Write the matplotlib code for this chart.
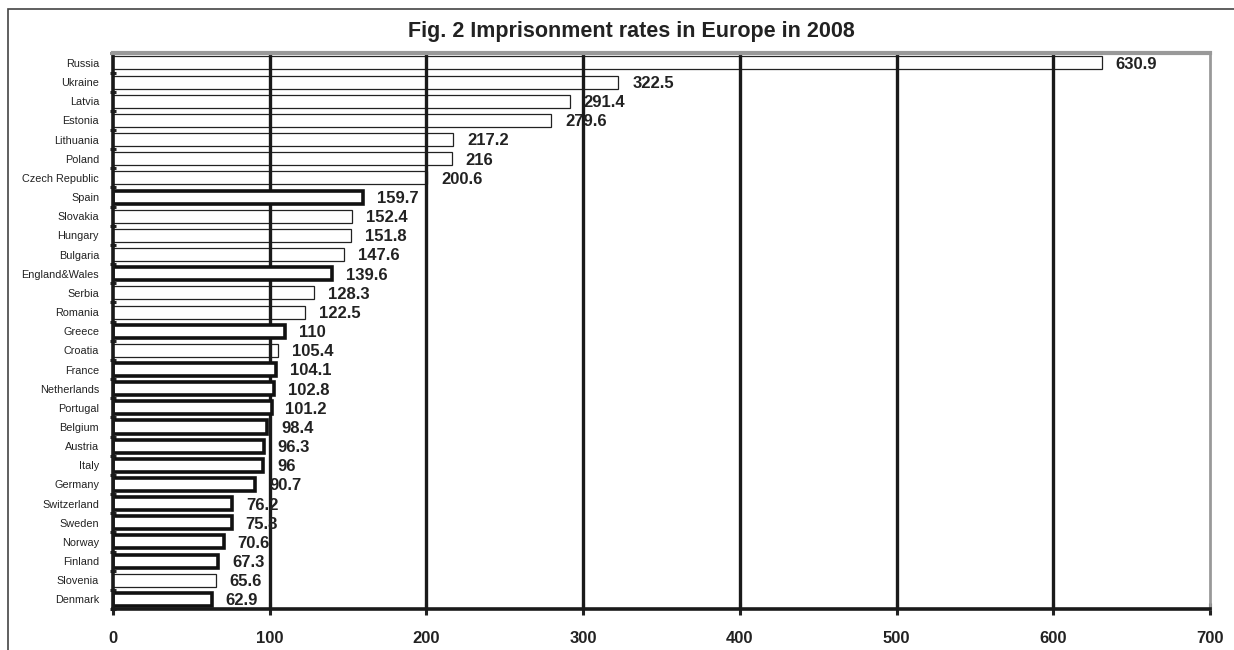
import matplotlib
matplotlib.use("Agg")
import matplotlib.pyplot as plt
from matplotlib.patches import Rectangle
import numpy as np

countries = ["Russia", "Ukraine", "Latvia", "Estonia", "Lithuania", "Poland",
             "Czech Republic", "Spain", "Slovakia", "Hungary", "Bulgaria",
             "England&Wales", "Serbia", "Romania", "Greece", "Croatia", "France",
             "Netherlands", "Portugal", "Belgium", "Austria", "Italy", "Germany",
             "Switzerland", "Sweden", "Norway", "Finland", "Slovenia", "Denmark"]
rates = [630.9, 322.5, 291.4, 279.6, 217.2, 216, 200.6, 159.7, 152.4, 151.8,
         147.6, 139.6, 128.3, 122.5, 110, 105.4, 104.1, 102.8, 101.2, 98.4,
         96.3, 96, 90.7, 76.2, 75.8, 70.6, 67.3, 65.6, 62.9]
rate_labels = ["630.9", "322.5", "291.4", "279.6", "217.2", "216", "200.6",
               "159.7", "152.4", "151.8", "147.6", "139.6", "128.3", "122.5",
               "110", "105.4", "104.1", "102.8", "101.2", "98.4", "96.3", "96",
               "90.7", "76.2", "75.8", "70.6", "67.3", "65.6", "62.9"]
highlighted = ["Spain", "England&Wales", "Greece", "France", "Netherlands",
               "Portugal", "Belgium", "Austria", "Italy", "Germany",
               "Switzerland", "Sweden", "Norway", "Finland", "Denmark"]
x_ticks = [0, 100, 200, 300, 400, 500, 600, 700]

plt.rcParams['font.family'] = ['Liberation Sans', 'DejaVu Sans']

fig = plt.figure(figsize=(12.34, 6.5), dpi=100)
ax = fig.add_axes([113/1234, 1-609/650, (1210-113)/1234, (609-53)/650])

y = np.arange(len(countries))
for yi, c, v, lab in zip(y, countries, rates, rate_labels):
    if c in highlighted:
        ax.barh(yi, v, height=0.68, color='white', edgecolor='#111111',
                linewidth=2.6, zorder=3)
    else:
        ax.barh(yi, v, height=0.68, color='none', edgecolor='#222222',
                linewidth=0.9, zorder=1)
    ax.annotate(lab, xy=(v, yi), xytext=(10, -1), textcoords='offset points',
                ha='left', va='center', fontsize=12, fontweight='bold',
                color='#222222', zorder=5)

ax.set_xlim(0, 700)
ax.set_ylim(len(countries) - 0.58, -0.52)
ax.set_xticks(x_ticks)
ax.set_xticklabels([str(t) for t in x_ticks], fontsize=12, fontweight='bold',
                   color='#222222')
ax.set_yticks(y)
ax.set_yticklabels(countries, fontsize=7.8, color='#222222')
ax.tick_params(axis='y', length=0, pad=10)
ax.set_yticks(np.arange(-0.5, len(countries)), minor=True)
ax.tick_params(axis='y', which='minor', length=4, width=2.2, direction='inout',
               color='#222222')
ax.tick_params(axis='x', length=8, width=2.2, direction='inout', pad=12,
               color='#222222')

for xv in x_ticks[1:-1]:
    ax.axvline(xv, color='#1a1a1a', linewidth=2.4, zorder=2)

ax.spines['left'].set_linewidth(2.6)
ax.spines['left'].set_color('#1a1a1a')
ax.spines['bottom'].set_linewidth(2.6)
ax.spines['bottom'].set_color('#1a1a1a')
ax.spines['top'].set_linewidth(3)
ax.spines['top'].set_color('#999999')
ax.spines['right'].set_linewidth(2)
ax.spines['right'].set_color('#999999')
for s in ax.spines.values():
    s.set_zorder(4)

fig.text(631/1234, 1-31/650, "Fig. 2 Imprisonment rates in Europe in 2008",
         ha='center', va='center', fontsize=15.5, fontweight='bold',
         color='#222222')

fig.patches.append(Rectangle((8/1234, -0.1), 1.2, 1-9/650+0.1,
                             transform=fig.transFigure, fill=False,
                             edgecolor='#444444', linewidth=1.2))

fig.savefig("out.png", dpi=100)
